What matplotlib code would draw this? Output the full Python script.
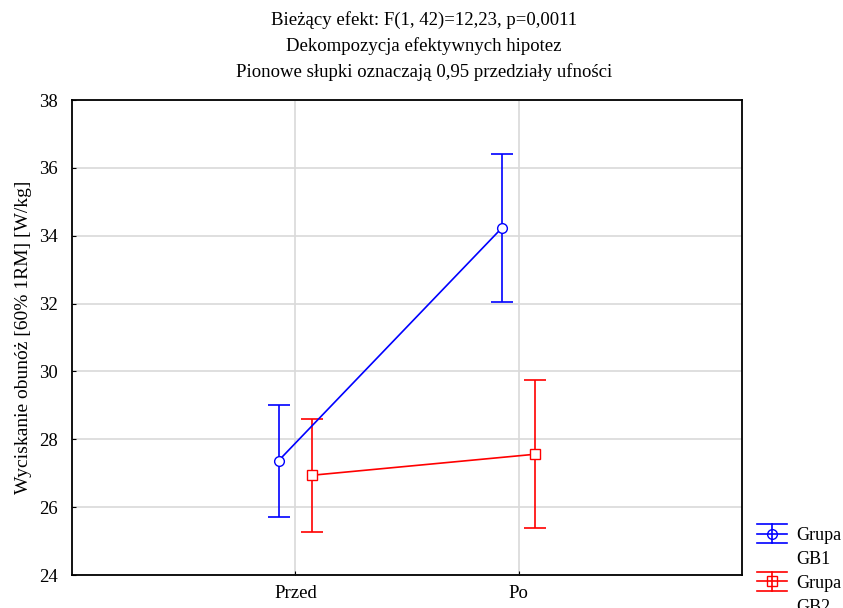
import matplotlib.pyplot as plt
import numpy as np
from matplotlib.lines import Line2D
from matplotlib.legend_handler import HandlerBase

plt.rcParams['font.family'] = ['Liberation Serif', 'DejaVu Serif']

# dane
etapy = ['Przed', 'Po']
gb1_srednie = [27.37, 34.23]
gb1_ci = [1.65, 2.18]
gb2_srednie = [26.94, 27.56]
gb2_ci = [1.67, 2.18]
grupy = ['Grupa', 'GB1', 'Grupa', 'GB2']

x = np.arange(len(etapy))
przesuniecie = 0.075


# uchwyt legendy w stylu Statistica (szerokie wasy)
class HandlerWasy(HandlerBase):
    def create_artists(self, legend, orig, xd, yd, w, h, fontsize, trans):
        kolor = orig.get_color()
        marker = orig.get_marker()
        yc = h / 2 - yd
        d = 7
        art = [
            Line2D([-xd, -xd + w], [yc, yc], color=kolor, lw=1.2),
            Line2D([-xd, -xd + w], [yc + d, yc + d], color=kolor, lw=1.2),
            Line2D([-xd, -xd + w], [yc - d, yc - d], color=kolor, lw=1.2),
            Line2D([-xd + w / 2] * 2, [yc - d, yc + d], color=kolor, lw=1.2),
            Line2D([-xd + w / 2], [yc], color=kolor, marker=marker, ms=7,
                   mfc='none', mec=kolor, lw=0),
        ]
        for a in art:
            a.set_transform(trans)
        return art


fig = plt.figure(figsize=(8.43, 6.08), dpi=100)
ax = fig.add_axes([72 / 843, 1 - 575 / 608, 670 / 843, 475 / 608])

ax.errorbar(x - przesuniecie, gb1_srednie, yerr=gb1_ci, color='blue',
            marker='o', markersize=7, markerfacecolor='white',
            markeredgecolor='blue', linewidth=1.2, elinewidth=1.2,
            capsize=8, capthick=1.2, zorder=3)
ax.errorbar(x + przesuniecie, gb2_srednie, yerr=gb2_ci, color='red',
            marker='s', markersize=7, markerfacecolor='white',
            markeredgecolor='red', linewidth=1.2, elinewidth=1.2,
            capsize=8, capthick=1.2, zorder=3)

ax.set_xlim(-1, 2)
ax.set_ylim(24, 38)
ax.set_yticks(np.arange(24, 39, 2))
ax.set_xticks(x)
ax.set_xticklabels(etapy)
ax.tick_params(direction='in', length=3, labelsize=13.5, colors='black')
ax.tick_params(axis='y', pad=10)
ax.tick_params(axis='x', pad=7)
ax.grid(True, color='#d9d9d9', linewidth=1.2, zorder=0)
ax.set_axisbelow(True)
for s in ax.spines.values():
    s.set_linewidth(1.3)
    s.set_color('black')

ax.set_ylabel('Wyciskanie obunóż [60% 1RM] [W/kg]', fontsize=14, labelpad=5)

fig.text(0.503, 1 - 20 / 608, 'Bieżący efekt: F(1, 42)=12,23, p=0,0011',
         ha='center', va='center', fontsize=13.5)
fig.text(0.503, 1 - 46 / 608, 'Dekompozycja efektywnych hipotez',
         ha='center', va='center', fontsize=13.5)
fig.text(0.503, 1 - 72 / 608, 'Pionowe słupki oznaczają 0,95 przedziały ufności',
         ha='center', va='center', fontsize=13.5)

h1 = Line2D([], [], color='blue', marker='o')
h2 = Line2D([], [], color='red', marker='s')
pusty = Line2D([], [], linestyle='none')
fig.legend([h1, pusty, h2, pusty], grupy, loc='upper left',
           bbox_to_anchor=(757 / 843, 1 - 527 / 608), frameon=False,
           fontsize=13, handlelength=1.65, handletextpad=0.5,
           labelspacing=0.38, borderaxespad=0, borderpad=0,
           handler_map={h1: HandlerWasy(), h2: HandlerWasy()})

fig.savefig('out.png', dpi=100)
